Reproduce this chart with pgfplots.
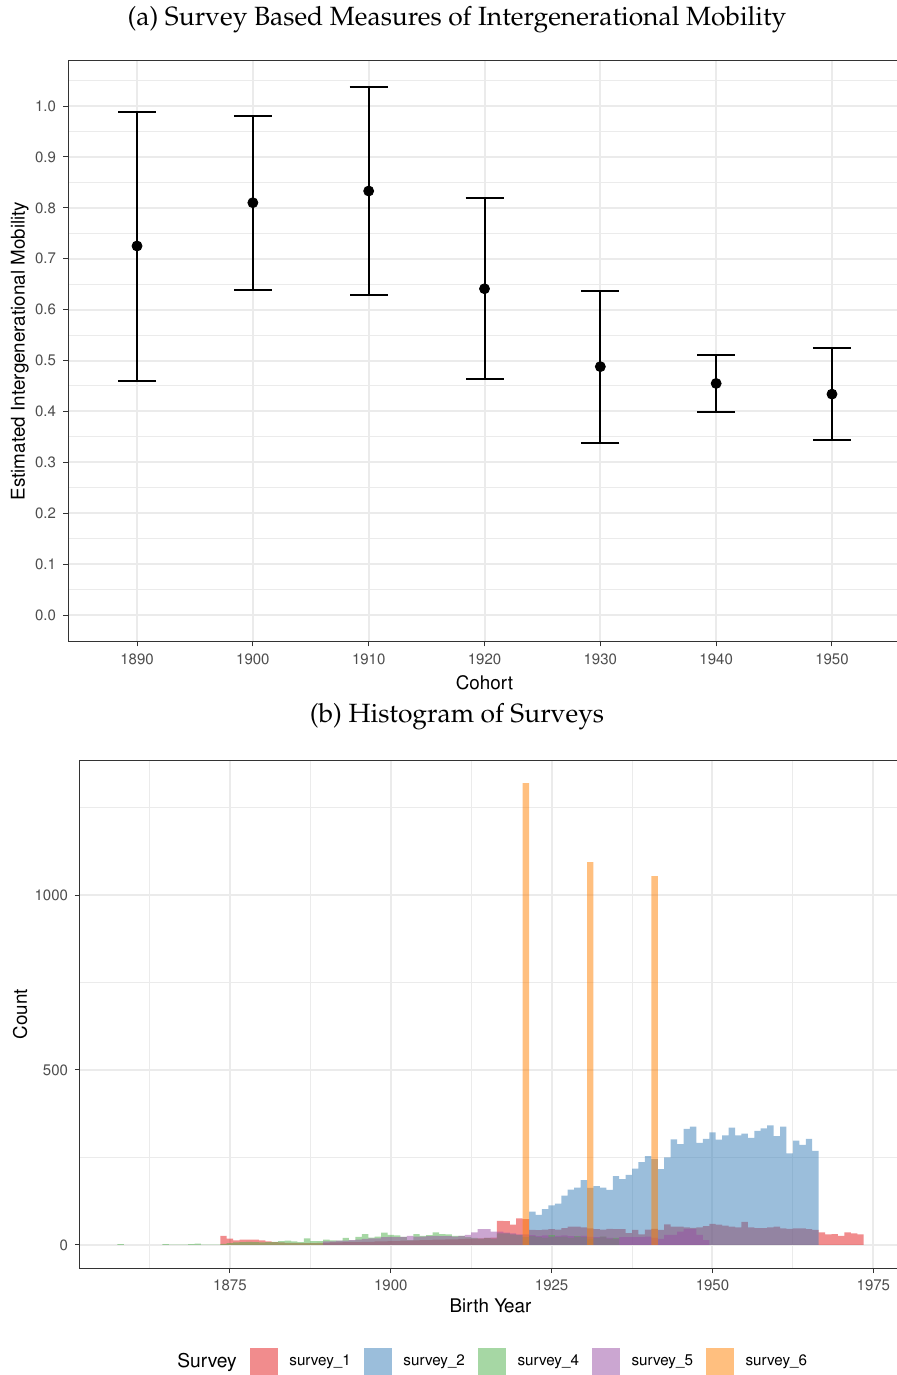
\documentclass[border=0pt]{standalone}
\usepackage[T1]{fontenc}
\usepackage{mathpazo}
\usepackage{helvet}
\usepackage{pgfplots}
\usepackage{pgfplotstable}
\pgfplotsset{compat=1.18}
\definecolor{sred}{HTML}{E41A1C}
\definecolor{sblue}{HTML}{377EB8}
\definecolor{sgreen}{HTML}{4DAF4A}
\definecolor{spurple}{HTML}{984EA3}
\definecolor{sorange}{HTML}{FF7F00}
\definecolor{gridc}{HTML}{EBEBEB}
\definecolor{tickc}{HTML}{4D4D4D}
\definecolor{framec}{HTML}{333333}
\newcommand{\hv}{\fontfamily{phv}\selectfont}

\pgfplotstableread{
x y ep em
1890 0.725 0.264 0.265
1900 0.810 0.171 0.172
1910 0.833 0.204 0.205
1920 0.641 0.179 0.178
1930 0.488 0.149 0.151
1940 0.455 0.056 0.057
1950 0.434 0.090 0.091
}\mob

\pgfplotstableread{
year count
1874 26
1875 18
1876 13
1877 15
1878 15
1879 15
1880 13
1881 10
1882 8
1883 7
1884 6
1885 6
1886 5
1887 5
1888 5
1889 6
1890 6
1891 7
1892 7
1893 8
1894 8
1895 8
1896 9
1897 9
1898 10
1899 10
1900 11
1901 11
1902 12
1903 12
1904 13
1905 14
1906 14
1907 15
1908 15
1909 16
1910 16
1911 17
1912 18
1913 18
1914 19
1915 20
1916 21
1917 69
1918 68
1919 58
1920 76
1921 74
1922 43
1923 42
1924 44
1925 45
1926 44
1927 48
1928 52
1929 52
1930 50
1931 47
1932 45
1933 44
1934 46
1935 45
1936 45
1937 34
1938 43
1939 30
1940 44
1941 46
1942 43
1943 59
1944 52
1945 52
1946 50
1947 49
1948 50
1949 54
1950 60
1951 58
1952 55
1953 52
1954 50
1955 66
1956 50
1957 48
1958 48
1959 50
1960 52
1961 47
1962 46
1963 47
1964 47
1965 45
1966 43
1967 36
1968 30
1969 31
1970 26
1971 36
1972 33
1973 30
}\sone

\pgfplotstableread{
year count
1922 95
1923 86
1924 102
1925 113
1926 118
1927 141
1928 158
1929 164
1930 185
1931 163
1932 168
1933 164
1934 157
1935 197
1936 188
1937 200
1938 218
1939 237
1940 254
1941 245
1942 217
1943 250
1944 302
1945 288
1946 332
1947 338
1948 292
1949 303
1950 322
1951 301
1952 313
1953 335
1954 313
1955 318
1956 306
1957 326
1958 333
1959 342
1960 311
1961 338
1962 262
1963 298
1964 286
1965 303
1966 269
}\stwo

\pgfplotstableread{
year count
1858 2
1865 2
1866 1
1867 1
1868 1
1869 2
1870 4
1871 1
1872 1
1873 1
1874 3
1875 5
1876 7
1877 8
1878 9
1879 8
1880 7
1881 8
1882 9
1883 11
1884 12
1885 10
1886 8
1887 19
1888 11
1889 11
1890 15
1891 13
1892 12
1893 20
1894 13
1895 23
1896 31
1897 21
1898 24
1899 35
1900 29
1901 27
1902 23
1903 14
1904 31
1905 26
1906 28
1907 36
1908 31
1909 30
1910 26
1911 26
1912 22
1913 20
1914 18
1915 20
1916 18
1917 33
1918 33
1919 30
1920 28
1921 22
1922 25
1923 22
1924 20
1925 28
1926 22
1927 24
1928 20
1929 25
1930 22
1931 18
1932 20
1933 24
1934 18
1935 20
}\sfour

\pgfplotstableread{
year count
1890 10
1891 10
1892 12
1893 12
1894 14
1895 15
1896 17
1897 19
1898 19
1899 22
1900 23
1901 22
1902 23
1903 26
1904 24
1905 24
1906 25
1907 26
1908 25
1909 25
1910 24
1911 26
1912 29
1913 36
1914 45
1915 45
1916 38
1917 38
1918 35
1919 33
1920 30
1921 30
1922 28
1923 25
1924 27
1925 24
1926 26
1927 27
1928 25
1929 24
1930 26
1931 23
1932 22
1933 24
1934 20
1935 18
1936 22
1937 22
1938 22
1939 22
1940 24
1941 20
1942 17
1943 29
1944 29
1945 38
1946 46
1947 46
1948 29
1949 14
}\sfive

\pgfplotstableread{
year count
1921 1320
1931 1094
1941 1054
}\ssix

\pgfplotsset{
  every tick label/.append style={font=\hv\fontsize{7.5}{9}\selectfont, text=tickc},
  /pgf/number format/assume math mode=true,
  /pgf/number format/set thousands separator={},
  gg/.style={
    scale only axis,
    axis line style={framec, line width=0.5pt},
    tick style={framec, line width=0.5pt},
    major tick length=2.5pt,
    minor tick length=0pt,
    tick align=outside,
    tick pos=left,
    major grid style={gridc, line width=1pt},
    minor grid style={gridc, line width=0.5pt},
  },
  hist/.style={
    ybar, bar width=1, bar shift=0pt, draw=none, fill opacity=0.5,
    legend image code/.code={\fill[##1] (0pt,-6.8pt) rectangle (14pt,6.8pt);},
  },
}

\begin{document}
\begin{tikzpicture}
\path[use as bounding box] (0,0) rectangle (448pt,-687.5pt);

\node[font=\fontsize{13.2}{15}\selectfont] at (228.5pt,-10pt) {(a) Survey Based Measures of Intergenerational Mobility};
\node[font=\fontsize{13.2}{15}\selectfont] at (228.5pt,-358.5pt) {(b) Histogram of Surveys};

\begin{axis}[gg,
  at={(34pt,-320.7pt)}, anchor=south west,
  width=416.5pt, height=290.3pt,
  xmin=1884.04, xmax=1955.96, ymin=-0.0518, ymax=1.0888,
  xtick={1890,1900,1910,1920,1930,1940,1950},
  ytick={0,0.1,0.2,0.3,0.4,0.5,0.6,0.7,0.8,0.9,1.0},
  minor ytick={0.05,0.15,0.25,0.35,0.45,0.55,0.65,0.75,0.85,0.95,1.05},
  xmajorgrids, ymajorgrids, yminorgrids,
  yticklabel style={/pgf/number format/.cd, fixed, fixed zerofill, precision=1},
  xlabel={Cohort}, ylabel={Estimated Intergenerational Mobility},
  every axis x label/.style={at={(axis description cs:0.5,-0.0717)}, anchor=center, font=\hv\fontsize{9.4}{11}\selectfont},
  every axis y label/.style={at={(axis description cs:-0.0576,0.5)}, rotate=90, anchor=center, font=\hv\fontsize{9.4}{11}\selectfont},
]
\addplot[black, only marks, mark=*, mark size=2.5pt,
  error bars/.cd, y dir=both, y explicit, error mark=|,
  error bar style={line width=1pt, black},
  error mark options={line width=1pt, mark size=9.5pt, black}]
  table[x=x, y=y, y error plus=ep, y error minus=em] {\mob};
\end{axis}

\begin{axis}[gg,
  at={(40pt,-634pt)}, anchor=south west,
  width=410.5pt, height=254pt,
  xmin=1851.7, xmax=1979.3, ymin=-66, ymax=1386,
  xtick={1875,1900,1925,1950,1975},
  minor xtick={1862.5,1887.5,1912.5,1937.5,1962.5},
  ytick={0,500,1000}, minor ytick={250,750,1250},
  grid=both,
  xlabel={Birth Year}, ylabel={Count},
  every axis x label/.style={at={(axis description cs:0.5,-0.0748)}, anchor=center, font=\hv\fontsize{9.4}{11}\selectfont},
  every axis y label/.style={at={(axis description cs:-0.073,0.5)}, rotate=90, anchor=center, font=\hv\fontsize{9.4}{11}\selectfont},
  legend columns=-1,
  legend style={draw=none, fill=none, at={(axis description cs:0.495,-0.185)}, anchor=center,
    font=\hv\fontsize{7.6}{9}\selectfont, nodes={inner sep=0pt},
    /tikz/every odd column/.append style={column sep=5.8pt},
    /tikz/every even column/.append style={column sep=6.5pt}},
]
\addlegendimage{empty legend}
\addplot[hist, fill=sred] table[x=year, y=count] {\sone};
\addplot[hist, fill=sblue] table[x=year, y=count] {\stwo};
\addplot[hist, fill=sgreen] table[x=year, y=count] {\sfour};
\addplot[hist, fill=spurple] table[x=year, y=count] {\sfive};
\addplot[hist, fill=sorange] table[x=year, y=count] {\ssix};
\legend{{\fontsize{9.6}{11}\selectfont Survey}, survey\_1, survey\_2, survey\_4, survey\_5, survey\_6}
\end{axis}
\end{tikzpicture}
\end{document}
